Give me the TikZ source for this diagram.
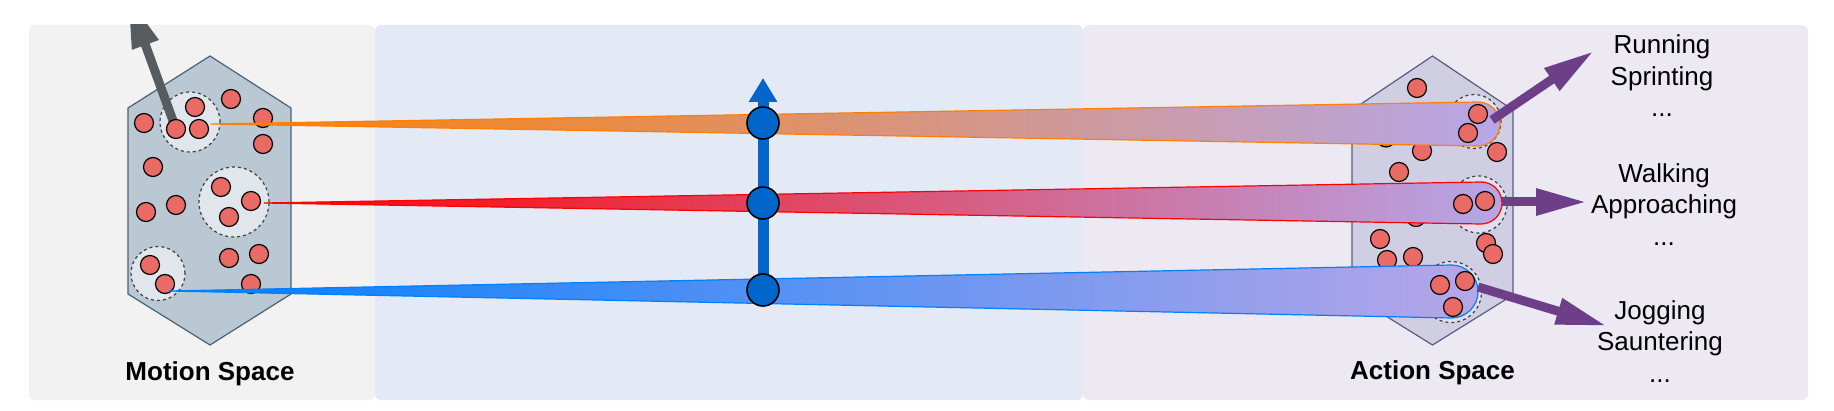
\documentclass[tikz,border=0pt]{standalone}
\usepackage{fontspec}
\setmainfont{Liberation Sans}
\usetikzlibrary{arrows.meta}

\definecolor{motionbg}{HTML}{F2F2F2}
\definecolor{latentbg}{HTML}{E3EAF6}
\definecolor{actionbg}{HTML}{ECE9F3}
\definecolor{mhexfill}{HTML}{BAC8D3}
\definecolor{mhexline}{HTML}{4A6275}
\definecolor{ahexfill}{HTML}{D0CEE2}
\definecolor{ahexline}{HTML}{5E5A82}
\definecolor{mclustfill}{HTML}{E1E6EC}
\definecolor{aclustfill}{HTML}{E2E0EE}
\definecolor{dotred}{HTML}{EA6B66}
\definecolor{bandorange}{HTML}{FF8000}
\definecolor{bandred}{HTML}{FF0000}
\definecolor{bandblue}{HTML}{007FFF}
\definecolor{lav}{HTML}{B7A6E8}
\definecolor{zblue}{HTML}{0066CC}
\definecolor{apurple}{HTML}{6D3F88}
\definecolor{mgray}{HTML}{575C61}

\tikzset{
	mhex/.style={fill=mhexfill, draw=mhexline, line width=0.6pt},
	ahex/.style={fill=ahexfill, draw=ahexline, line width=0.6pt},
	mclust/.style={circle, fill=mclustfill, draw=black!75, dash pattern=on 1.5pt off 1.5pt, line width=0.6pt, inner sep=0pt},
	aclust/.style={circle, fill=aclustfill, draw=black!75, dash pattern=on 1.5pt off 1.5pt, line width=0.6pt, inner sep=0pt},
	rdot/.style={circle, fill=dotred, draw=black, line width=0.6pt, minimum size=9.5pt, inner sep=0pt},
	zdot/.style={circle, fill=zblue, draw=black, line width=0.8pt, minimum size=16pt, inner sep=0pt},
	band/.style={line width=0.6pt},
	zarrow/.style={draw=zblue, line width=5.5pt, -{Triangle[length=12pt, width=13.5pt]}},
	garrow/.style={draw=mgray, line width=4.5pt, -{Triangle[length=25.5pt, width=13pt]}},
	parrow/.style={draw=apurple, line width=4.5pt, -{Triangle[length=25.5pt, width=12.5pt]}},
	actxt/.style={align=center, font=\fontsize{13pt}{15.75pt}\selectfont},
	spacetxt/.style={font=\fontsize{13pt}{15.75pt}\selectfont\bfseries}
}

\begin{document}
\begin{tikzpicture}[x=0.5pt, y=-0.5pt]
	\useasboundingbox (0,0) rectangle (1834,411);
	\fill[white] (0,0) rectangle (1834,411);
	% panels
	\fill[motionbg, rounded corners=3pt] (29,25) rectangle (375,400);
	\fill[latentbg, rounded corners=3pt] (375,25) rectangle (1083,400);
	\fill[actionbg, rounded corners=3pt] (1083,25) rectangle (1808,400);

	% motion space
	\draw[mhex] (210,56) -- (291,108) -- (291,294) -- (210,345) -- (128,294) -- (128,108) -- cycle;
	\node[mclust, minimum size=30pt] (mc1) at (190,122) {};
	\node[mclust, minimum size=35pt] (mc2) at (234,202) {};
	\node[mclust, minimum size=27pt] (mc3) at (158,273.5) {};
	\coordinate (gsrc) at (176,129);
	\coordinate (gtip) at (128,-3);
	\begin{scope}
		\clip (29,25) rectangle (1808,400);
		\draw[garrow] (gsrc) -- (gtip);
	\end{scope}
	\node[rdot] (m1) at (144,123) {};
	\node[rdot] (m2) at (195,107) {};
	\node[rdot] (m3) at (231,99) {};
	\node[rdot] (m4) at (gsrc) {};
	\node[rdot] (m5) at (199,129) {};
	\node[rdot] (m6) at (263,118) {};
	\node[rdot] (m7) at (263,144) {};
	\node[rdot] (m8) at (153,167) {};
	\node[rdot] (m9) at (221,187) {};
	\node[rdot] (m10) at (251,201) {};
	\node[rdot] (m11) at (229,217) {};
	\node[rdot] (m12) at (176,205) {};
	\node[rdot] (m13) at (146,212) {};
	\node[rdot] (m14) at (150,265) {};
	\node[rdot] (m15) at (165,284) {};
	\node[rdot] (m16) at (229,258) {};
	\node[rdot] (m17) at (259,254) {};
	\node[rdot] (m18) at (251,284) {};
	\node[spacetxt] (mlabel) at (210,373.5) {Motion Space};

	% action space
	\draw[ahex] (1432.5,56) -- (1513,110) -- (1513,295) -- (1432.5,345) -- (1352,295) -- (1352,110) -- cycle;
	\node[aclust, minimum size=27pt] (ac1) at (1474,121.5) {};
	\node[aclust, minimum size=28.5pt] (ac2) at (1478.5,204.5) {};
	\node[aclust, minimum size=30.5pt] (ac3) at (1451,292) {};
	\node[rdot] (a1) at (1417,88) {};
	\node[rdot] (a2) at (1497,152) {};
	\node[rdot] (a3) at (1422,151) {};
	\node[rdot] (a4) at (1386,137.5) {};
	\node[rdot] (a5) at (1399,172) {};
	\node[rdot] (a6) at (1416,217) {};
	\node[rdot] (a7) at (1380,239) {};
	\node[rdot] (a8) at (1387,260) {};
	\node[rdot] (a9) at (1413,257) {};
	\node[rdot] (a10) at (1486,243) {};
	\node[rdot] (a11) at (1493,254) {};
	\node[spacetxt] (alabel) at (1432.5,372.5) {Action Space};

	% bands from motion to action
	\coordinate (runS) at (211,124);
	\coordinate (runE) at (1478,124);
	\coordinate (walkS) at (264,203);
	\coordinate (walkE) at (1481,203);
	\coordinate (jogS) at (169,291);
	\coordinate (jogE) at (1451.5,291.5);
	\shadedraw[band, left color=bandorange, right color=lav, draw=bandorange] (runS) -- ([yshift=11pt]runE) arc[start angle=90, end angle=-90, radius=11pt] -- cycle;
	\shadedraw[band, left color=bandred, right color=lav, draw=bandred] (walkS) -- ([yshift=10.5pt]walkE) arc[start angle=90, end angle=-90, radius=10.5pt] -- cycle;
	\shadedraw[band, left color=bandblue, right color=lav, draw=bandblue] (jogS) -- ([yshift=13.25pt]jogE) arc[start angle=90, end angle=-90, radius=13.25pt] -- cycle;
	\node[rdot] (a12) at (1478,114) {};
	\node[rdot] (a13) at (1468,133) {};
	\node[rdot] (a14) at (1463,204) {};
	\node[rdot] (a15) at (1485,201) {};
	\node[rdot] (a16) at (1440,285) {};
	\node[rdot] (a17) at (1465,281) {};
	\node[rdot] (a18) at (1453,307) {};

	% latent axis
	\coordinate (z1) at (763,123);
	\coordinate (z2) at (763,203);
	\coordinate (z3) at (763,290);
	\coordinate (ztop) at (763,78);
	\draw[zarrow] (z3) -- (ztop);
	\node[zdot] (zd1) at (z1) {};
	\node[zdot] (zd2) at (z2) {};
	\node[zdot] (zd3) at (z3) {};

	% action names
	\node[actxt] (run) at (1662,76) {Running\\Sprinting\\...};
	\node[actxt] (walk) at (1664,204.5) {Walking\\Approaching\\...};
	\node[actxt] (jog) at (1660,341.5) {Jogging\\Sauntering\\...};
	\coordinate (runA) at (1492,120);
	\coordinate (runT) at (1594,51);
	\coordinate (walkA) at (1502,202);
	\coordinate (walkT) at (1587,202);
	\coordinate (jogA) at (1478,287);
	\coordinate (jogT) at (1607,326);
	\draw[parrow] (runA) -- (runT);
	\draw[parrow] (walkA) -- (walkT);
	\draw[parrow] (jogA) -- (jogT);
\end{tikzpicture}
\end{document}
